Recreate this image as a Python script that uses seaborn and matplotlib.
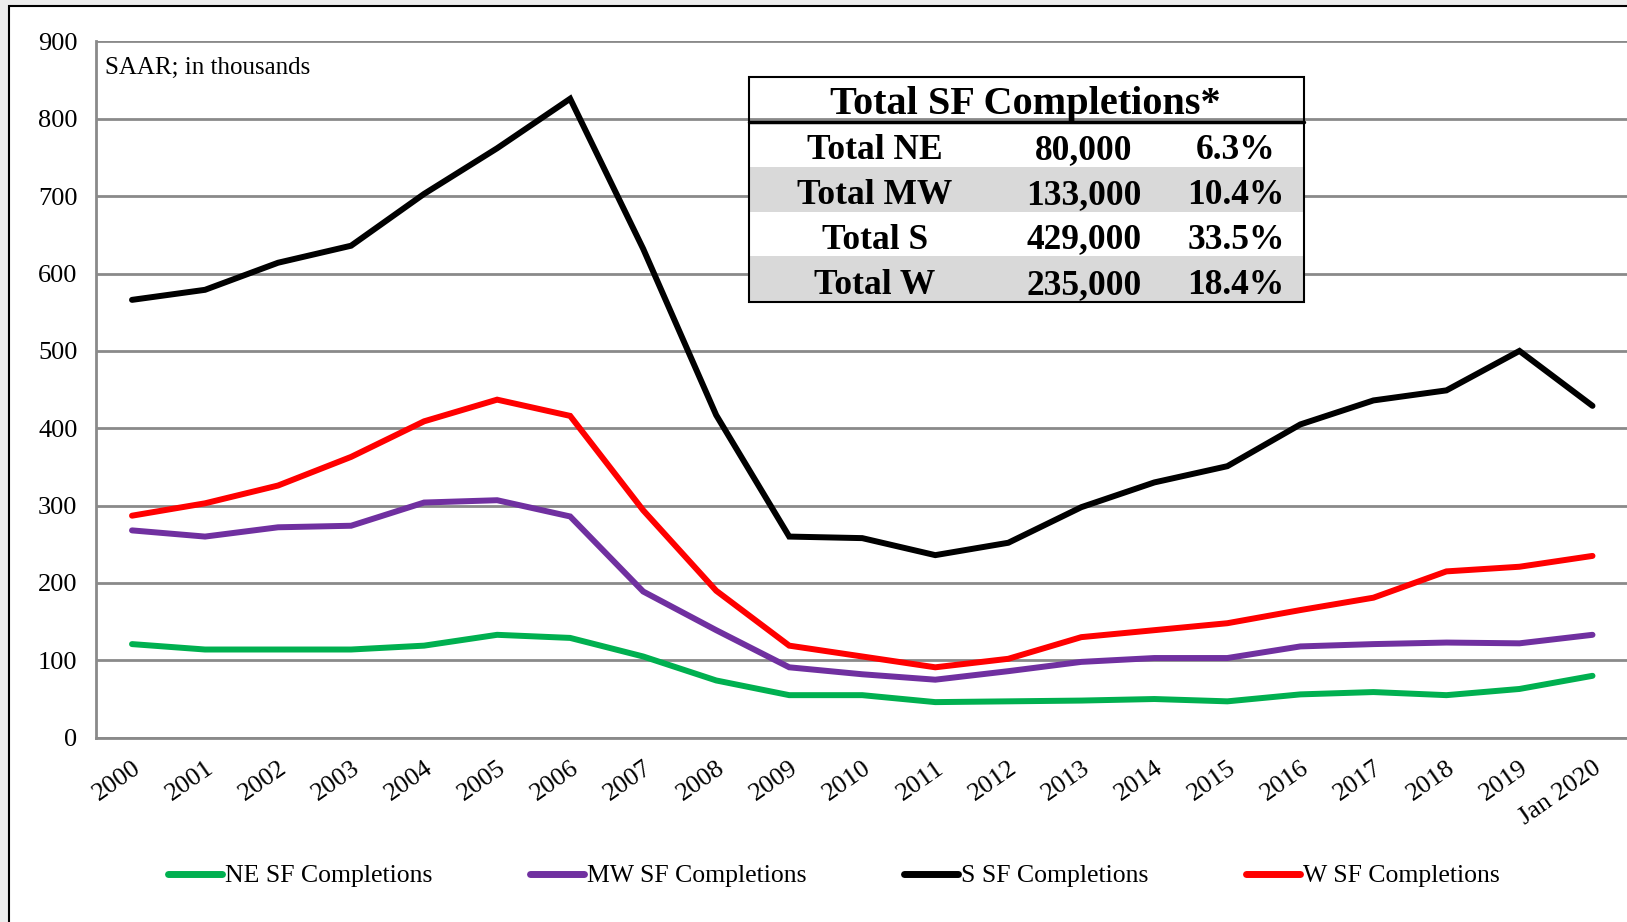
import matplotlib
matplotlib.use("Agg")
import matplotlib.pyplot as plt
import seaborn as sns
import pandas as pd
import numpy as np
from matplotlib.patches import Rectangle
from matplotlib.lines import Line2D

years = ["2000", "2001", "2002", "2003", "2004", "2005", "2006", "2007", "2008", "2009",
         "2010", "2011", "2012", "2013", "2014", "2015", "2016", "2017", "2018", "2019", "Jan 2020"]
ne = [121, 114, 114, 114, 119, 133, 129, 105, 74, 55, 55, 46, 47, 48, 50, 47, 56, 59, 55, 63, 80]
mw = [268, 260, 272, 274, 304, 307, 286, 189, 139, 91, 82, 75, 86, 98, 103, 103, 118, 121, 123, 122, 133]
s = [566, 579, 614, 636, 703, 762, 826, 632, 417, 260, 258, 236, 252, 298, 330, 351, 405, 436, 449, 500, 429]
w = [287, 303, 326, 363, 409, 437, 416, 294, 190, 119, 105, 91, 102, 130, 139, 148, 165, 181, 215, 221, 235]
series_names = ["NE SF Completions", "MW SF Completions", "S SF Completions", "W SF Completions"]
series_colors = ["#00b050", "#7030a0", "#000000", "#ff0000"]

table_title = "Total SF Completions*"
table_regions = ["Total NE", "Total MW", "Total S", "Total W"]
table_totals = ["80,000", "133,000", "429,000", "235,000"]
table_shares = ["6.3%", "10.4%", "33.5%", "18.4%"]

rows = []
for name, vals in zip(series_names, [ne, mw, s, w]):
    for i, v in enumerate(vals):
        rows.append({"idx": i, "value": v, "series": name})
df = pd.DataFrame(rows)

sns.set_theme(style="white")
plt.rcParams["font.family"] = ["Liberation Serif", "DejaVu Serif"]
plt.rcParams["text.color"] = "black"
plt.rcParams["xtick.labelcolor"] = "black"
plt.rcParams["ytick.labelcolor"] = "black"

W, H = 1627, 922
fig = plt.figure(figsize=(W / 100, H / 100), dpi=100)
fig.patch.set_facecolor("#ededed")
# slide frame
fig.patches.append(Rectangle((8.5 / W, -0.05), 1.1, 1 - 5.5 / H + 0.05, transform=fig.transFigure,
                             facecolor="white", edgecolor="black", linewidth=1.5, zorder=-10))

left, right, top, bottom = 95.5 / W, 1629 / W, 41.5 / H, 737.7 / H
ax = fig.add_axes([left, 1 - bottom, right - left, bottom - top])
ax.set_facecolor("none")

sns.lineplot(data=df, x="idx", y="value", hue="series", palette=dict(zip(series_names, series_colors)),
             linewidth=4.3, ax=ax, legend=False, sort=False)
for ln in ax.get_lines():
    ln.set_solid_capstyle("round")
    ln.set_solid_joinstyle("miter")

ax.set_xlim(-0.5, len(years) - 0.5)
ax.set_ylim(0, 900)
ax.set_yticks(np.arange(0, 901, 100))
ax.set_yticklabels([str(v) for v in range(0, 901, 100)], fontsize=19, color="black")
ax.yaxis.grid(True, color="#8a8a8a", linewidth=2)
ax.xaxis.grid(False)
ax.set_axisbelow(True)
ax.set_xticks(range(len(years)))
ax.set_xticklabels(years, rotation=35, ha="right", rotation_mode="anchor", fontsize=19, color="black")
ax.set_xticks(np.arange(-0.5, len(years)), minor=True)
ax.tick_params(axis="x", which="major", length=0, pad=14)
ax.tick_params(axis="x", which="minor", length=8, width=2, color="#8a8a8a", direction="out")
ax.tick_params(axis="y", length=8, width=2, color="#8a8a8a", direction="out", pad=5)
ax.set_xlabel("")
ax.set_ylabel("")
for side in ["top", "right"]:
    ax.spines[side].set_visible(False)
for side in ["left", "bottom"]:
    ax.spines[side].set_color("#8a8a8a")
    ax.spines[side].set_linewidth(2)

ax.text(0.006, 0.978, "SAAR; in thousands", transform=ax.transAxes, fontsize=18,
        ha="left", va="top", color="black")

# summary table
tx0, tx1 = 749 / W, 1304 / W
row_edges = [77, 122.4, 167, 211.7, 256.3, 302]
def fy(p):
    return 1 - p / H
for r in (2, 4):
    fig.patches.append(Rectangle((tx0, fy(row_edges[r + 1])), tx1 - tx0,
                                 fy(row_edges[r]) - fy(row_edges[r + 1]), transform=fig.transFigure,
                                 facecolor="#d9d9d9", edgecolor="none", zorder=2))
fig.patches.append(Rectangle((tx0, fy(row_edges[-1])), tx1 - tx0, fy(row_edges[0]) - fy(row_edges[-1]),
                             transform=fig.transFigure, facecolor="none", edgecolor="black",
                             linewidth=1.5, zorder=3))
fig.lines.append(Line2D([tx0, tx1], [fy(row_edges[1]), fy(row_edges[1])], transform=fig.transFigure,
                        color="black", linewidth=2.5, zorder=3))
fig.text(1025 / W, fy((row_edges[0] + row_edges[1]) / 2 + 5), table_title, ha="center", va="center",
         fontsize=29, fontweight="bold", zorder=4, color="black")
col_x = [875 / W, 1084 / W, 1236 / W]
for i in range(4):
    yc = fy((row_edges[i + 1] + row_edges[i + 2]) / 2 + 6)
    for cx, txt in zip(col_x, [table_regions[i], table_totals[i], table_shares[i]]):
        fig.text(cx, yc, txt, ha="center", va="center", fontsize=25.5, fontweight="bold", zorder=4,
                 color="black")

handles = [Line2D([], [], color=c, linewidth=5, solid_capstyle="round") for c in series_colors]
leg = fig.legend(handles, series_names, loc="center", bbox_to_anchor=(834 / W, 1 - 876 / H), ncol=4,
                 frameon=False, fontsize=18.5, handlelength=2.1, handletextpad=0.12, columnspacing=3.8)
for t in leg.get_texts():
    t.set_color("black")

fig.savefig("out.png", dpi=100, facecolor=fig.get_facecolor())
